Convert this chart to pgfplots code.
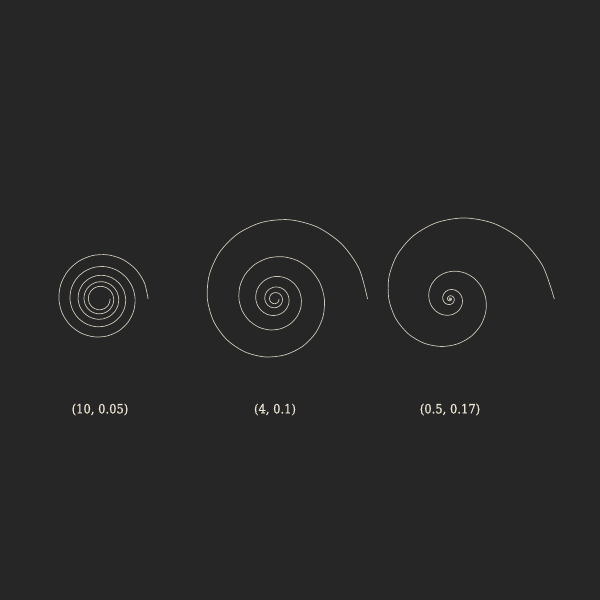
\documentclass[border=0pt]{standalone}
\usepackage{fontspec}
\setmainfont{DejaVu Serif}
\newfontfamily\lab[FakeBold=0.8]{DejaVu Serif Condensed}
\usepackage{pgfplots}
\pgfplotsset{compat=1.18}
\definecolor{bg}{HTML}{262626}
\definecolor{ln}{HTML}{CFC8B8}
\definecolor{tx}{HTML}{EDE4D3}
\pgfplotsset{spiral/.style={
  width=4.4cm, height=4.4cm, scale only axis, hide axis, clip=false,
  xmin=-110, xmax=110, ymin=-110, ymax=110, y dir=reverse, anchor=center}}
\begin{document}
\begin{tikzpicture}
\fill[bg] (0,0) rectangle (12,12);
\useasboundingbox (0,0) rectangle (12,12);
\begin{axis}[spiral, at={(2cm,6.02cm)}]
\addplot[ln, line width=0.4pt, smooth, data cs=polar] coordinates {
(0,10.00) (20,10.18) (40,10.36) (60,10.54) (80,10.72) (100,10.91) (120,11.10) (140,11.30) (160,11.50) (180,11.70) (200,11.91) (220,12.12) (240,12.33) (260,12.55) (280,12.77) (300,12.99) (320,13.22) (340,13.45)
(360,13.69) (380,13.93) (400,14.18) (420,14.43) (440,14.68) (460,14.94) (480,15.20) (500,15.47) (520,15.74) (540,16.02) (560,16.30) (580,16.59) (600,16.88) (620,17.18) (640,17.48) (660,17.79) (680,18.10) (700,18.42)
(720,18.74) (740,19.08) (760,19.41) (780,19.75) (800,20.10) (820,20.45) (840,20.81) (860,21.18) (880,21.55) (900,21.93) (920,22.32) (940,22.71) (960,23.11) (980,23.52) (1000,23.93) (1020,24.35) (1040,24.78) (1060,25.22)
(1080,25.66) (1100,26.12) (1120,26.58) (1140,27.04) (1160,27.52) (1180,28.00) (1200,28.50) (1220,29.00) (1240,29.51) (1260,30.03) (1280,30.56) (1300,31.10) (1320,31.64) (1340,32.20) (1360,32.77) (1380,33.34) (1400,33.93) (1420,34.53)
(1440,35.14) (1460,35.75) (1480,36.38) (1500,37.03) (1520,37.68) (1540,38.34) (1560,39.02) (1580,39.70) (1600,40.40) (1620,41.11) (1640,41.84) (1660,42.57) (1680,43.32) (1700,44.09) (1720,44.86) (1740,45.65) (1760,46.46) (1780,47.27) (1800,48.11)
};
\end{axis}
\begin{axis}[spiral, at={(5.5cm,6.02cm)}]
\addplot[ln, line width=0.4pt, smooth, data cs=polar] coordinates {
(0,4.00) (20,4.14) (40,4.29) (60,4.44) (80,4.60) (100,4.76) (120,4.93) (140,5.11) (160,5.29) (180,5.48) (200,5.67) (220,5.87) (240,6.08) (260,6.30) (280,6.52) (300,6.75) (320,6.99) (340,7.24)
(360,7.50) (380,7.76) (400,8.04) (420,8.33) (440,8.62) (460,8.93) (480,9.24) (500,9.57) (520,9.91) (540,10.27) (560,10.63) (580,11.01) (600,11.40) (620,11.80) (640,12.22) (660,12.66) (680,13.11) (700,13.57)
(720,14.05) (740,14.55) (760,15.07) (780,15.61) (800,16.16) (820,16.73) (840,17.33) (860,17.94) (880,18.58) (900,19.24) (920,19.93) (940,20.63) (960,21.37) (980,22.13) (1000,22.91) (1020,23.73) (1040,24.57) (1060,25.44)
(1080,26.34) (1100,27.28) (1120,28.25) (1140,29.25) (1160,30.29) (1180,31.37) (1200,32.48) (1220,33.64) (1240,34.83) (1260,36.07) (1280,37.35) (1300,38.68) (1320,40.05) (1340,41.47) (1360,42.95) (1380,44.47) (1400,46.05) (1420,47.69)
(1440,49.38) (1460,51.14) (1480,52.95) (1500,54.83) (1520,56.78) (1540,58.80) (1560,60.89) (1580,63.05) (1600,65.29) (1620,67.61) (1640,70.01) (1660,72.50) (1680,75.07) (1700,77.74) (1720,80.50) (1740,83.36) (1760,86.32) (1780,89.39) (1800,92.56)
};
\end{axis}
\begin{axis}[spiral, at={(9cm,6.02cm)}]
\addplot[ln, line width=0.4pt, smooth, data cs=polar] coordinates {
(0,0.50) (20,0.53) (40,0.56) (60,0.60) (80,0.63) (100,0.67) (120,0.71) (140,0.76) (160,0.80) (180,0.85) (200,0.91) (220,0.96) (240,1.02) (260,1.08) (280,1.15) (300,1.22) (320,1.29) (340,1.37)
(360,1.45) (380,1.54) (400,1.64) (420,1.74) (440,1.84) (460,1.96) (480,2.08) (500,2.20) (520,2.34) (540,2.48) (560,2.63) (580,2.79) (600,2.97) (620,3.15) (640,3.34) (660,3.54) (680,3.76) (700,3.99)
(720,4.23) (740,4.49) (760,4.77) (780,5.06) (800,5.37) (820,5.70) (840,6.04) (860,6.41) (880,6.81) (900,7.22) (920,7.66) (940,8.13) (960,8.63) (980,9.16) (1000,9.72) (1020,10.31) (1040,10.94) (1060,11.61)
(1080,12.32) (1100,13.07) (1120,13.87) (1140,14.72) (1160,15.62) (1180,16.58) (1200,17.59) (1220,18.67) (1240,19.81) (1260,21.02) (1280,22.30) (1300,23.67) (1320,25.11) (1340,26.65) (1360,28.28) (1380,30.01) (1400,31.84) (1420,33.79)
(1440,35.85) (1460,38.04) (1480,40.37) (1500,42.84) (1520,45.46) (1540,48.24) (1560,51.19) (1580,54.32) (1600,57.64) (1620,61.16) (1640,64.90) (1660,68.87) (1680,73.08) (1700,77.54) (1720,82.29) (1740,87.32) (1760,92.65) (1780,98.32) (1800,104.33)
};
\end{axis}
\node[tx, font=\lab\fontsize{7.3pt}{9pt}\selectfont, anchor=center] at (2cm,3.81cm) {(10, 0.05)};
\node[tx, font=\lab\fontsize{7.3pt}{9pt}\selectfont, anchor=center] at (5.5cm,3.81cm) {(4, 0.1)};
\node[tx, font=\lab\fontsize{7.3pt}{9pt}\selectfont, anchor=center] at (9cm,3.81cm) {(0.5, 0.17)};
\end{tikzpicture}
\end{document}
